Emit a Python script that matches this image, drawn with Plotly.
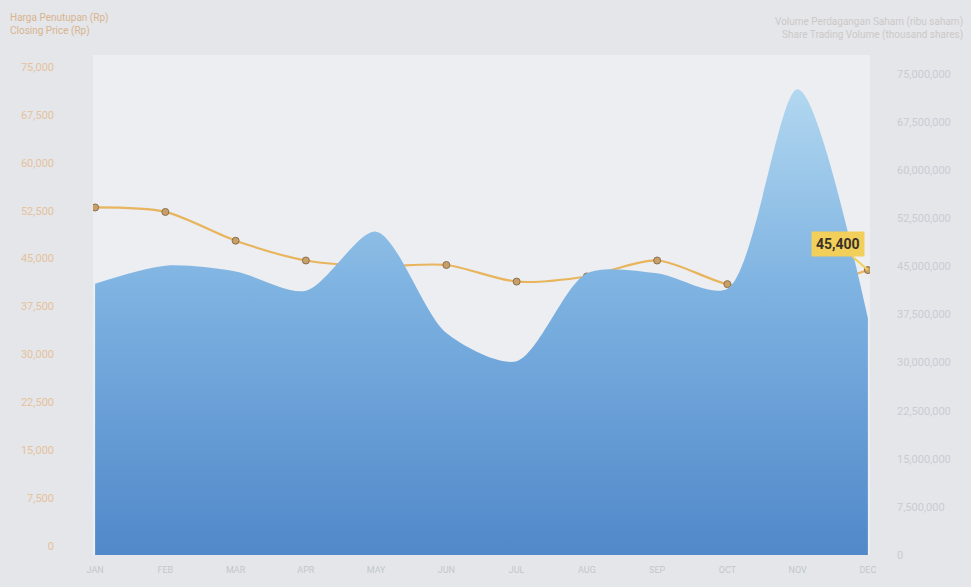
import plotly.graph_objects as go

months = ["JAN", "FEB", "MAR", "APR", "MAY", "JUN", "JUL", "AUG", "SEP", "OCT", "NOV", "DEC"]
closing_price = [53000, 52300, 47800, 44700, 43800, 44000, 41400, 42200, 44700, 41000, 40100, 43200]
trading_volume = [42300000, 45100000, 44200000, 41200000, 50400000, 34600000, 30200000,
                  43900000, 43900000, 41500000, 72600000, 36900000]
last_price_label = "45,400"

left_ticks = [0, 7500, 15000, 22500, 30000, 37500, 45000, 52500, 60000, 67500, 75000]
right_ticks = [0, 7500000, 15000000, 22500000, 30000000, 37500000, 45000000,
               52500000, 60000000, 67500000, 75000000]

x_idx = list(range(len(months)))

fig = go.Figure()

fig.add_trace(go.Scatter(
    x=x_idx, y=trading_volume, yaxis="y2", mode="lines",
    line=dict(shape="spline", smoothing=0.8, width=0, color="rgba(0,0,0,0)"),
    fill="tozeroy",
    fillgradient=dict(type="vertical", start=0, stop=75000000,
                      colorscale=[[0, "#5088c9"], [0.55, "#7db2e1"], [1, "#b6daf1"]]),
    hoverinfo="skip", showlegend=False,
))

fig.add_trace(go.Scatter(
    x=x_idx, y=closing_price, yaxis="y", mode="lines+markers",
    line=dict(shape="spline", smoothing=0.8, width=2.2, color="#e8b45c"),
    marker=dict(size=7, color="#c99f68", line=dict(color="#8a7050", width=1)),
    showlegend=False,
))

fig.add_annotation(
    x=x_idx[-1], y=closing_price[-1], xref="x", yref="y",
    text="<b>" + last_price_label + "</b>", showarrow=True, arrowhead=0,
    arrowcolor="#f2cf5a", arrowwidth=2, ax=-30, ay=-26,
    bgcolor="#f2cf5a", borderpad=4, font=dict(size=14, color="#3a3328", family="Roboto"),
)

fig.add_annotation(x=-0.109, y=1.09, xref="paper", yref="paper", xanchor="left", yanchor="top",
                   text="Harga Penutupan (Rp)<br>Closing Price (Rp)", showarrow=False, align="left",
                   font=dict(size=10, color="#d9b48e", family="Roboto"))
fig.add_annotation(x=1.122, y=1.082, xref="paper", yref="paper", xanchor="right", yanchor="top",
                   text="Volume Perdagangan Saham (ribu saham)<br>Share Trading Volume (thousand shares)",
                   showarrow=False, align="right",
                   font=dict(size=10, color="#cdc9c6", family="Roboto"))

fig.update_layout(
    width=971, height=587,
    margin=dict(l=93, r=101, t=55, b=29),
    paper_bgcolor="#e4e6ea", plot_bgcolor="#eceef2",
    font=dict(family="Roboto"),
    xaxis=dict(range=[-0.03, 11.03], tickvals=x_idx, ticktext=months, showgrid=False,
               zeroline=False, showline=False, ticks="", ticklabelstandoff=8,
               tickfont=dict(size=9, color="#c3c6cb")),
    yaxis=dict(range=[-1400, 76867], tickvals=left_ticks,
               ticktext=[f"{v:,}" for v in left_ticks], showgrid=False, zeroline=False,
               ticklabelstandoff=38, tickfont=dict(size=11, color="#e6c29c")),
    yaxis2=dict(range=[0, 77940000], overlaying="y", side="right", tickvals=right_ticks,
                ticktext=[f"{v:,}" for v in right_ticks], showgrid=False, zeroline=False,
                ticklabelstandoff=26, tickfont=dict(size=11, color="#c8ccd3")),
)

fig.write_html("out.html", config={"displayModeBar": False},
               post_script="document.body.style.margin='0';")
